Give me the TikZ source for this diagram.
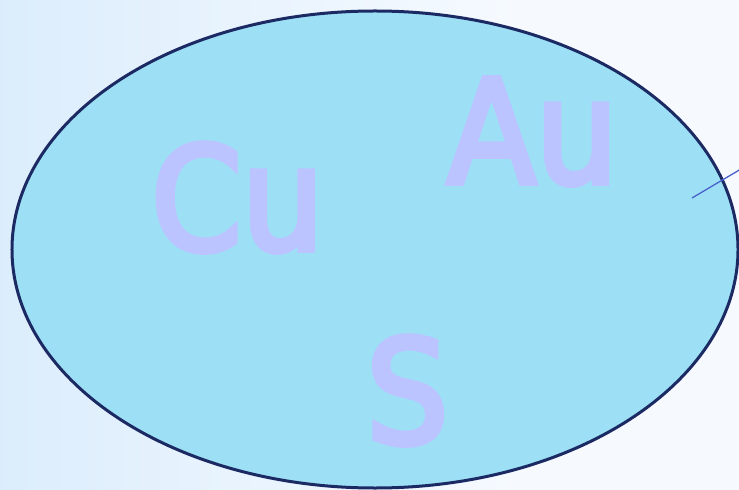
\documentclass[tikz,border=0pt]{standalone}
\usepackage{fontspec}
\usetikzlibrary{shapes.geometric}
\setmainfont{DejaVu Sans Condensed}
\newfontfamily\elemfont{DejaVu Sans Condensed}[FakeBold=4]
\definecolor{bgA}{HTML}{C6E2FA}
\definecolor{bgB}{HTML}{E4F1FD}
\definecolor{bgC}{HTML}{F6FAFF}
\definecolor{ellfill}{HTML}{9DE0F6}
\definecolor{ellline}{HTML}{1C2A64}
\definecolor{elem}{HTML}{BBC4FF}
\definecolor{pointer}{HTML}{4A62CC}
\pgfdeclarehorizontalshading{bgshade}{100bp}{color(0bp)=(bgA); color(35bp)=(bgB); color(60bp)=(bgC); color(100bp)=(bgC)}
\tikzset{
  elemlabel/.style={text=elem, font=\elemfont\fontsize{144bp}{144bp}\selectfont, inner sep=0pt, anchor=base west},
}
\begin{document}
\begin{tikzpicture}[x=1bp,y=-1bp]
\useasboundingbox (0,0) rectangle (739,490);
\shade[shading=bgshade] (0,0) rectangle (739,490);
\node[ellipse, draw=ellline, fill=ellfill, line width=3bp, minimum width=726bp, minimum height=477bp, inner sep=0pt] (ell) at (375,249.5) {};
\node[elemlabel] (cu) at (151,250) {Cu};
\node[elemlabel] (au) at (447,183) {Au};
\node[elemlabel] (s) at (366,443) {S};
\coordinate (pstart) at (692,198);
\coordinate (pend) at (741,169);
\draw[pointer, line width=1.3bp] (pstart) -- (pend);
\end{tikzpicture}
\end{document}
